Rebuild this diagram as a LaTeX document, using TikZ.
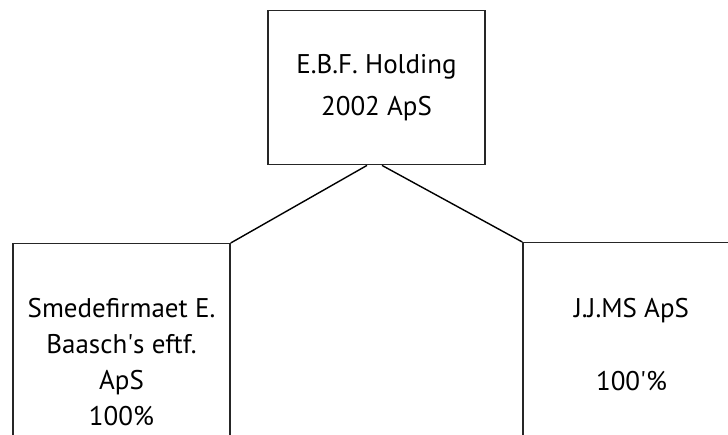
\documentclass[tikz,border=0pt]{standalone}
\usepackage{fontspec}
\setmainfont{PT Sans}
\usetikzlibrary{positioning}

\begin{document}
\begin{tikzpicture}[x=1pt, y=-1pt, line width=1.4pt,
  firm/.style={draw=black!85, rectangle, minimum width=217pt, align=center, inner sep=0pt, font=\fontsize{27}{36}\selectfont}]
  \clip (0,0) rectangle (728,435);
  \fill[white] (0,0) rectangle (728,435);
  % companies
  \node[firm, minimum height=154pt, anchor=north] (holding) at (376.5,10) {E.B.F. Holding\\[6pt]2002 ApS};
  \node[firm, minimum height=236pt, anchor=north] (smede) at (121.5,243) {Smedefirmaet E.\\Baasch\textquotesingle s eftf.\\ApS\\100\%};
  \node[firm, minimum height=204pt, anchor=north] (jjms) at (631.5,242) {J.J.MS ApS\\[37pt]100\textquotesingle\%};
  % ownership
  \draw ([xshift=-9.5pt]holding.south) -- (smede.north east);
  \draw ([xshift=5.5pt]holding.south) -- (jjms.north west);
\end{tikzpicture}
\end{document}
